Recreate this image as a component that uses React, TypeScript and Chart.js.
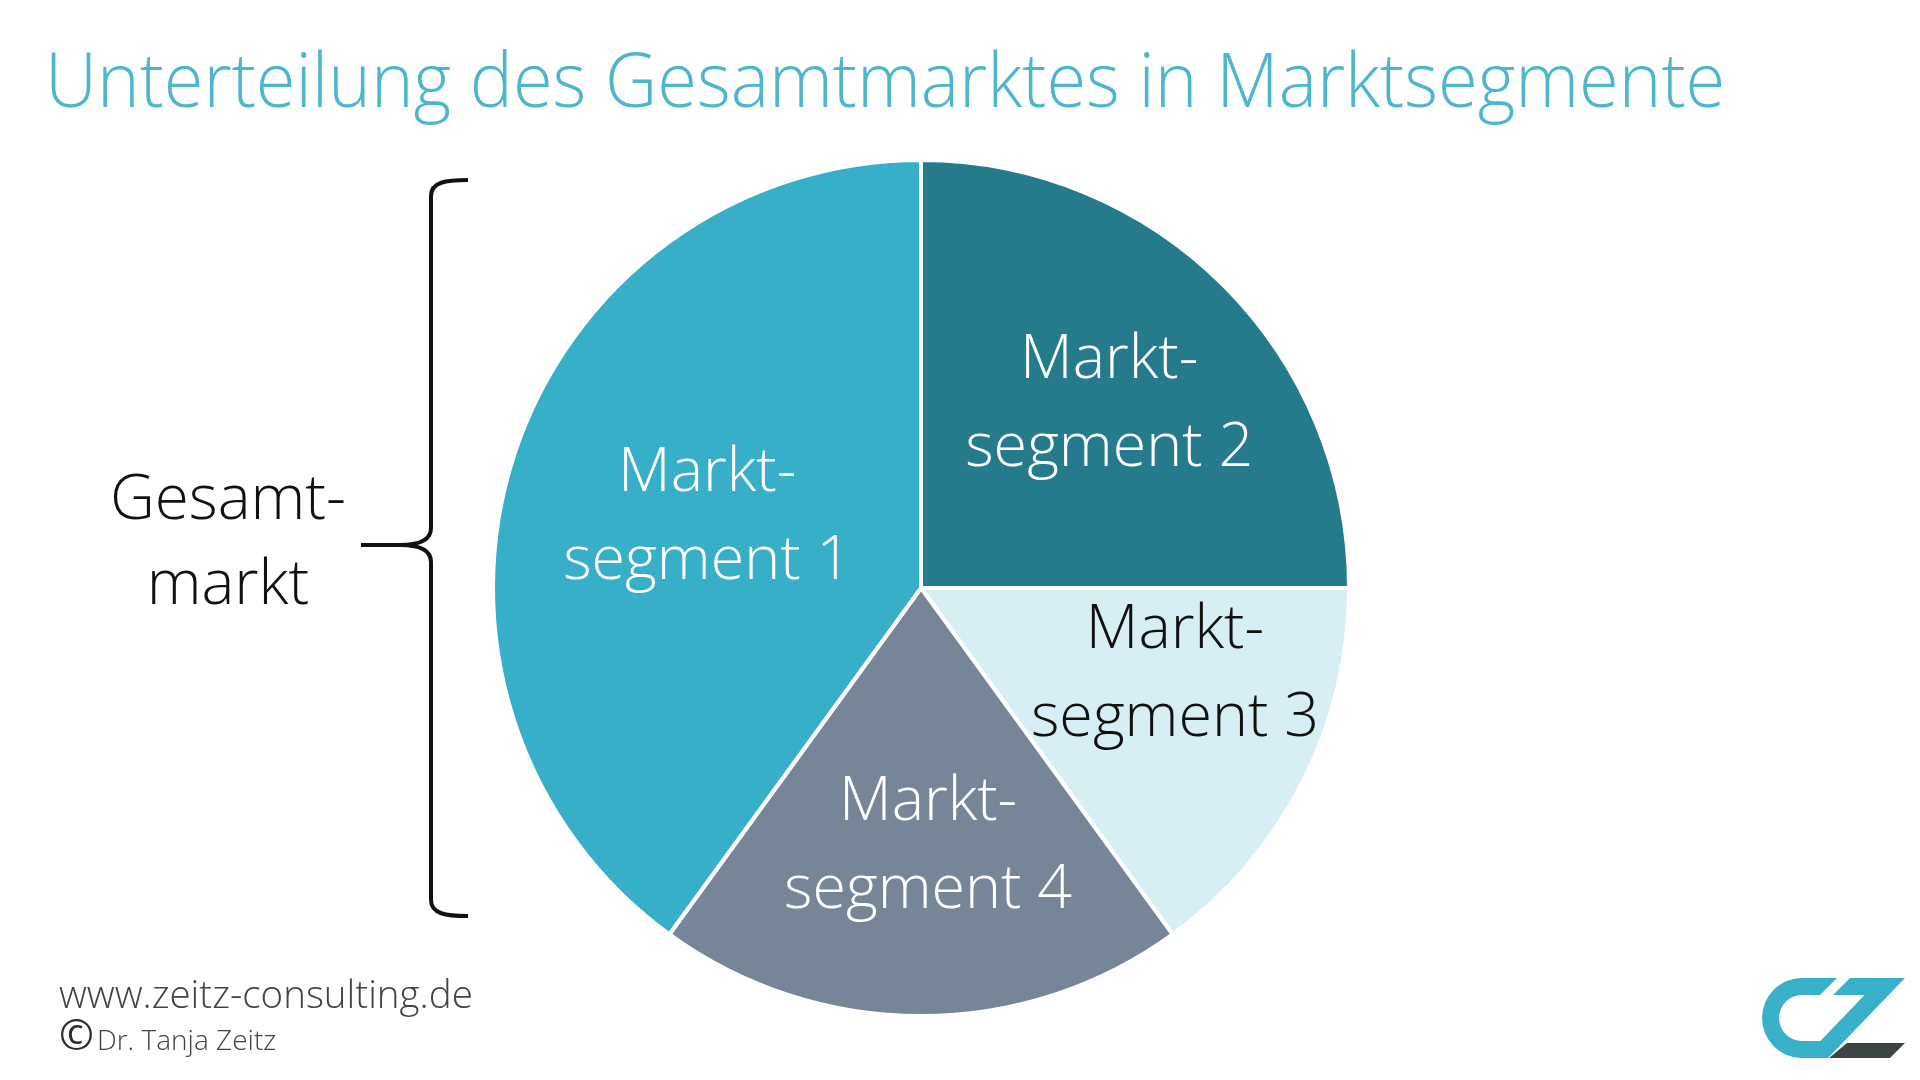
import React, { useEffect, useRef } from "react";
import { Chart, registerables } from "chart.js";

Chart.register(...registerables);

// Data (clockwise from 12 o'clock)
const segmentNames: string[] = ["segment 2", "segment 3", "segment 4", "segment 1"];
const segmentValues: number[] = [25, 15, 20, 40];
const segmentColors: string[] = ["#257B8B", "#D7EEF4", "#778599", "#37AFC8"];
const labelColors: string[] = ["#ffffff", "#111111", "#ffffff", "#ffffff"];
// label placement: fraction of radius and angular nudge (deg)
const labelRadius: number[] = [0.622, 0.624, 0.594, 0.529];
const labelAngleShift: number[] = [0, -9, -1.6, 1.2];

const LABEL_FONT_SIZE = 61;
const LABEL_LINE_GAP = 88;

const labelPlugin = {
  id: "segLabels",
  afterDatasetsDraw(chart: any) {
    const ctx = chart.ctx as CanvasRenderingContext2D;
    const meta = chart.getDatasetMeta(0);
    meta.data.forEach((arc: any, i: number) => {
      const p = arc.getProps(["x", "y", "startAngle", "endAngle", "outerRadius"], true);
      const mid = (p.startAngle + p.endAngle) / 2 + (labelAngleShift[i] * Math.PI) / 180;
      const cx = p.x + Math.cos(mid) * labelRadius[i] * p.outerRadius;
      const cy = p.y + Math.sin(mid) * labelRadius[i] * p.outerRadius;
      const capH = 0.714 * LABEL_FONT_SIZE;
      const block = capH + LABEL_LINE_GAP;
      const b1 = cy - block / 2 + capH;
      ctx.save();
      ctx.font = `300 ${LABEL_FONT_SIZE}px "Open Sans"`;
      ctx.fillStyle = labelColors[i];
      ctx.textAlign = "center";
      ctx.textBaseline = "alphabetic";
      ctx.fillText("Markt-", cx, b1);
      ctx.fillText(segmentNames[i], cx, b1 + LABEL_LINE_GAP);
      ctx.restore();
    });
  },
};

export default function App() {
  const canvasRef = useRef<HTMLCanvasElement | null>(null);

  useEffect(() => {
    if (!canvasRef.current) return;
    const chart = new Chart(canvasRef.current, {
      type: "pie",
      data: {
        labels: segmentNames.map((s) => "Markt" + s),
        datasets: [
          {
            data: segmentValues,
            backgroundColor: segmentColors,
            borderColor: "#ffffff",
            borderWidth: 4,
          },
        ],
      },
      options: {
        animation: false,
        responsive: false,
        radius: 428,
        layout: { padding: { left: 0, right: 78, top: 96, bottom: 0 } },
        plugins: {
          legend: { display: false },
          tooltip: { enabled: false },
          title: { display: false },
        },
      } as any,
      plugins: [labelPlugin],
    });
    return () => chart.destroy();
  }, []);

  const font = '"Open Sans", sans-serif';

  return (
    <div
      style={{
        position: "fixed",
        left: 0,
        top: 0,
        width: 1920,
        height: 1080,
        background: "#ffffff",
        overflow: "hidden",
        fontFamily: font,
      }}
    >
      <canvas
        ref={canvasRef}
        width={1920}
        height={1080}
        style={{ position: "absolute", left: 0, top: 0, width: 1920, height: 1080 }}
      />
      <div
        style={{
          position: "absolute",
          left: 45,
          top: 40,
          fontSize: 76,
          lineHeight: "76px",
          fontWeight: 300,
          color: "#4DB6CC",
          whiteSpace: "nowrap",
          transform: "scaleX(0.951)",
          transformOrigin: "0 0",
        }}
      >
        Unterteilung des Gesamtmarktes in Marktsegmente
      </div>
      <div
        style={{
          position: "absolute",
          left: 78,
          top: 453,
          width: 300,
          textAlign: "center",
          fontSize: 62,
          lineHeight: "85px",
          fontWeight: 300,
          color: "#111111",
        }}
      >
        Gesamt-
        <br />
        markt
      </div>
      <svg
        width={1920}
        height={1080}
        style={{ position: "absolute", left: 0, top: 0, pointerEvents: "none" }}
      >
        <path
          d="M468,180 C446,180 431,182 431,196 L431,528 Q431,545 400,545 L361,545 L400,545 Q431,545 431,562 L431,900 C431,914 446,916 468,916"
          fill="none"
          stroke="#111111"
          strokeWidth={4}
        />
        <g transform="translate(1700,950)">
          <path
            d="M137,28 L102,28 A40,40 0 0 0 102,108 L121,108 L121,91 L102,91 A23,23 0 0 1 102,45 L120,45 Z"
            fill="#38B0C9"
          />
          <path d="M150,28 L205,28 L128,108 L104,108 L164.6,45 L133,45 Z" fill="#38B0C9" />
          <path d="M147,93 L205,93 L190,108 L129,108 Z" fill="#3B4544" />
        </g>
      </svg>
      <div
        style={{
          position: "absolute",
          left: 59,
          top: 974,
          fontSize: 38.5,
          lineHeight: "38.5px",
          fontWeight: 300,
          color: "#3E4544",
          whiteSpace: "nowrap",
        }}
      >
        www.zeitz-consulting.de
      </div>
      <div
        style={{
          position: "absolute",
          left: 59,
          top: 1020,
          fontSize: 28,
          lineHeight: "28px",
          fontWeight: 300,
          color: "#3E4544",
          whiteSpace: "nowrap",
        }}
      >
        <span style={{ fontSize: 42, lineHeight: "28px", fontWeight: 400, color: "#2A2F2E", marginRight: 3 }}>©</span>
        <span>Dr. Tanja Zeitz</span>
      </div>
    </div>
  );
}
